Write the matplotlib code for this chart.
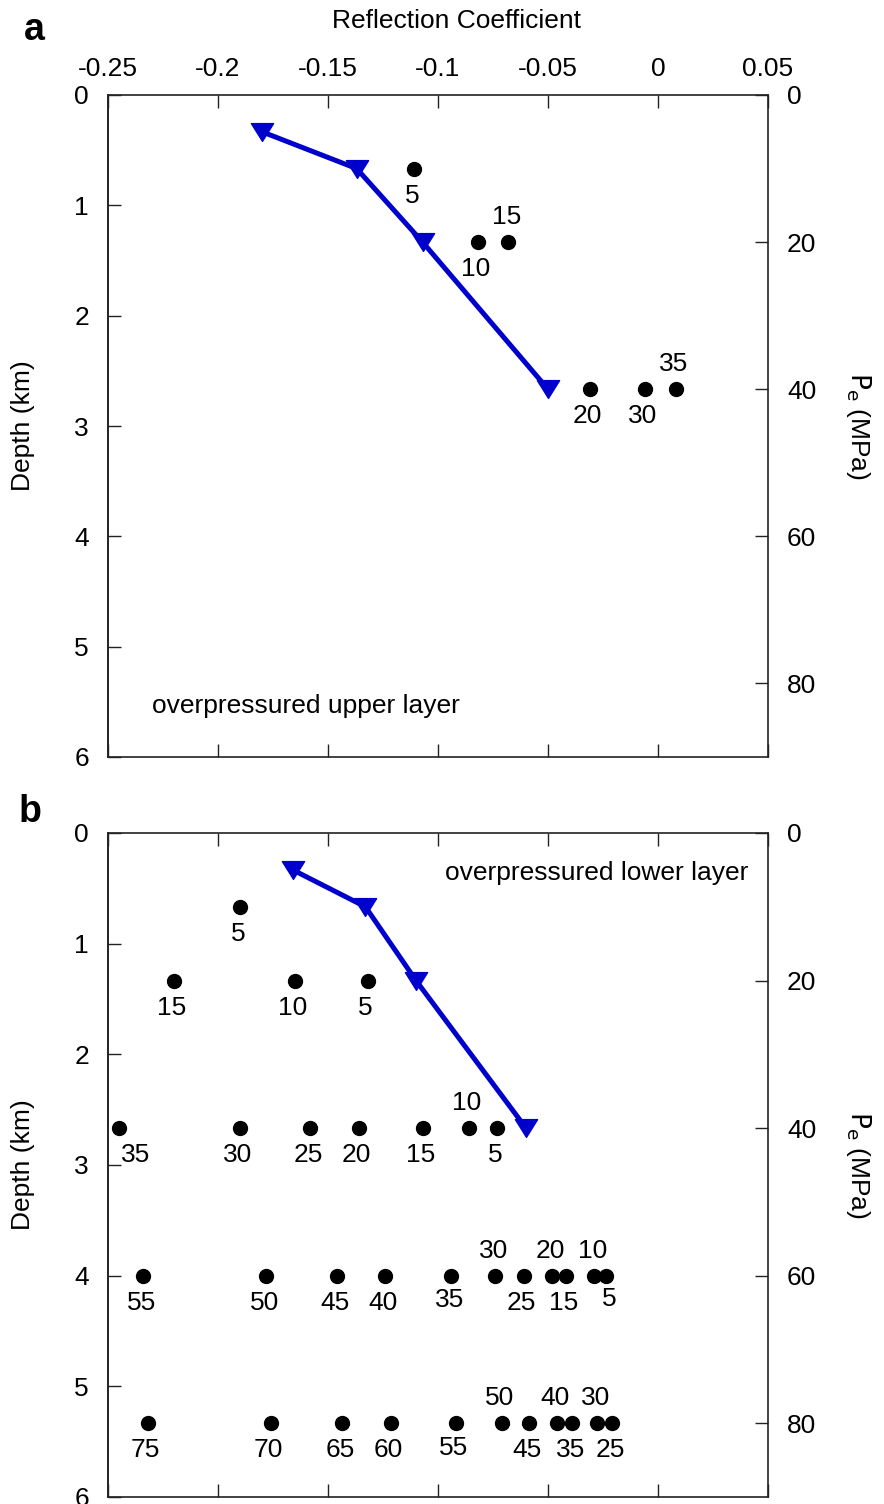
import matplotlib
matplotlib.use("Agg")
import matplotlib.pyplot as plt
from matplotlib.path import Path

plt.rcParams['font.family'] = ['Liberation Sans', 'DejaVu Sans']

# ---- data -------------------------------------------------------------
pe_ticks = [0, 20, 40, 60, 80]
depth_ticks = [0, 1, 2, 3, 4, 5, 6]
rc_ticks = [-0.25, -0.2, -0.15, -0.1, -0.05, 0, 0.05]
rc_tick_labels = ['-0.25', '-0.2', '-0.15', '-0.1', '-0.05', '0', '0.05']

# blue trend curves (effective pressure in MPa vs reflection coefficient)
trend_pe = [5, 10, 20, 40]
trend_rc_a = [-0.180, -0.137, -0.107, -0.050]
trend_rc_b = [-0.166, -0.133, -0.110, -0.060]

# panel a: labelled points
pts_a_pe = [10, 20, 20, 40, 40, 40]
pts_a_rc = [-0.111, -0.082, -0.068, -0.031, -0.006, 0.008]
pts_a_lab = [5, 10, 15, 20, 30, 35]

# panel b: labelled points, one row per effective pressure
row_b10_rc = [-0.190]
row_b10_lab = [5]
row_b20_rc = [-0.220, -0.165, -0.132]
row_b20_lab = [15, 10, 5]
row_b40_rc = [-0.245, -0.190, -0.158, -0.136, -0.107, -0.086, -0.073]
row_b40_lab = [35, 30, 25, 20, 15, 10, 5]
row_b60_rc = [-0.234, -0.178, -0.146, -0.124, -0.094, -0.074, -0.061,
              -0.048, -0.042, -0.029, -0.0235]
row_b60_lab = [55, 50, 45, 40, 35, 30, 25, 20, 15, 10, 5]
row_b80_rc = [-0.232, -0.176, -0.1435, -0.1215, -0.092, -0.071, -0.0585,
              -0.046, -0.039, -0.0276, -0.0207]
row_b80_lab = [75, 70, 65, 60, 55, 50, 45, 40, 35, 30, 25]

# ---- styling -------------------------------------------------------------
FS = 19
BLUE = '#0000CC'
KM_PER_MPA = 1 / 15.0

W, H = 884, 1504
fig = plt.figure(figsize=(W / 100, H / 100), dpi=100)

tri = Path([(-1, 0.8), (1, 0.8), (0, -0.8), (-1, 0.8)],
           [Path.MOVETO, Path.LINETO, Path.LINETO, Path.CLOSEPOLY])


def px(v):
    return v * 0.72


def setup(ax, top_labels):
    ax.set_xlim(-0.25, 0.05)
    ax.set_ylim(90, 0)
    for s in ax.spines.values():
        s.set_linewidth(1.2)
        s.set_color('#222222')
    ax.set_xticks(rc_ticks)
    ax.set_xticklabels(rc_tick_labels)
    ax.tick_params(axis='x', direction='in', length=px(13), width=1,
                   color='#222222', top=True, bottom=True,
                   labeltop=top_labels, labelbottom=False,
                   labelsize=FS, pad=px(14))
    ax.yaxis.tick_right()
    ax.set_yticks(pe_ticks)
    ax.tick_params(axis='y', direction='in', length=px(13), width=1,
                   color='#222222', labelsize=FS, pad=px(19),
                   left=False, right=True)
    sec = ax.secondary_yaxis('left', functions=(lambda p: p * KM_PER_MPA,
                                                lambda d: d / KM_PER_MPA))
    sec.set_yticks(depth_ticks)
    sec.spines['left'].set_linewidth(1.2)
    sec.spines['left'].set_color('#222222')
    sec.tick_params(direction='in', length=px(13), width=1, color='#222222',
                    labelsize=FS, pad=px(19))
    return sec


def label_points(ax, rcs, pes, labs, places):
    ax.plot(rcs, pes, 'o', color='black', ms=10, zorder=4, clip_on=False)
    for rc, pe, lab, pl in zip(rcs, pes, labs, places):
        dx, dy = pl
        ax.annotate(str(lab), (rc, pe), xytext=(px(dx), px(dy)),
                    textcoords='offset points', ha='center', va='center',
                    fontsize=FS, zorder=5)


B = (-2, -27)   # label under the dot
A = (-2, 25)    # label over the dot

# ---- panel a -------------------------------------------------------------
ax_a = fig.add_axes([108 / W, 1 - 757 / H, 660 / W, 662 / H])
setup(ax_a, True)
ax_a.plot(trend_rc_a, trend_pe, '-', color=BLUE, lw=3.6, marker=tri, ms=16,
          mec=BLUE, mfc=BLUE, zorder=3)
label_points(ax_a, pts_a_rc, pts_a_pe, pts_a_lab, [B, B, A, B, B, A])
ax_a.text((152 - 108) / 660, 1 - (706 - 95) / 662, 'overpressured upper layer',
          transform=ax_a.transAxes, ha='left', va='center', fontsize=FS)

# ---- panel b -------------------------------------------------------------
ax_b = fig.add_axes([108 / W, 1 - 1497 / H, 660 / W, 664 / H])
setup(ax_b, False)
ax_b.plot(trend_rc_b, trend_pe, '-', color=BLUE, lw=3.6, marker=tri, ms=16,
          mec=BLUE, mfc=BLUE, zorder=3)
label_points(ax_b, row_b10_rc, [10] * len(row_b10_rc), row_b10_lab, [B])
label_points(ax_b, row_b20_rc, [20] * len(row_b20_rc), row_b20_lab, [B, B, B])
label_points(ax_b, row_b40_rc, [40] * len(row_b40_rc), row_b40_lab,
             [(17, -27), B, B, B, B, A, B])
label_points(ax_b, row_b60_rc, [60] * len(row_b60_rc), row_b60_lab,
             [B, B, B, B, (-2, -24), A, B, A, B, A, (3, -23)])
label_points(ax_b, row_b80_rc, [80] * len(row_b80_rc), row_b80_lab,
             [B, B, B, B, (-2, -25), A, B, A, B, A, B])
ax_b.text((748 - 108) / 660, 1 - (873 - 833) / 664, 'overpressured lower layer',
          transform=ax_b.transAxes, ha='right', va='center', fontsize=FS)

# ---- figure-level labels --------------------------------------------------
fig.text(456 / W, 1 - 21 / H, 'Reflection Coefficient', ha='center',
         va='center', fontsize=FS)
fig.text(34 / W, 1 - 30 / H, 'a', ha='center', va='center', fontsize=27,
         weight='bold')
fig.text(30 / W, 1 - 812 / H, 'b', ha='center', va='center', fontsize=27,
         weight='bold')
for yc in [(95 + 757) / 2, (833 + 1497) / 2]:
    fig.text(23 / W, 1 - yc / H, 'Depth (km)', rotation=90, ha='center',
             va='center', fontsize=FS)
    fig.text(858 / W, 1 - yc / H, r'$\mathrm{P_e}$ (MPa)', rotation=270,
             ha='center', va='center', fontsize=FS)

fig.savefig('out.png', dpi=100)
